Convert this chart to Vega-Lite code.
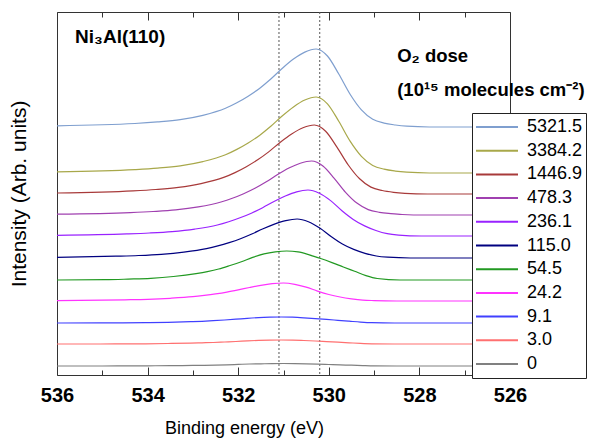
{
  "$schema": "https://vega.github.io/schema/vega-lite/v6.json",
  "width": 453,
  "height": 363,
  "autosize": {"type": "none"},
  "padding": {"left": 57, "top": 12, "right": 86, "bottom": 71},
  "background": "#ffffff",
  "config": {"view": {"stroke": "#333333", "strokeWidth": 1}},
  "resolve": {"axis": {"x": "independent"}},
  "datasets": {
    "spectra": [
      {"dose":"5321.5","be":536,"int":249.2},{"dose":"5321.5","be":534.28,"int":251.5},{"dose":"5321.5","be":533.78,"int":253.1},{"dose":"5321.5","be":533.28,"int":255.4},{"dose":"5321.5","be":532.78,"int":259.7},{"dose":"5321.5","be":532.28,"int":266.7},{"dose":"5321.5","be":532.03,"int":272.2},{"dose":"5321.5","be":531.78,"int":278.8},{"dose":"5321.5","be":531.53,"int":286.6},{"dose":"5321.5","be":531.28,"int":296},{"dose":"5321.5","be":531.03,"int":306.5},{"dose":"5321.5","be":530.78,"int":315.9},{"dose":"5321.5","be":530.53,"int":322.9},{"dose":"5321.5","be":530.28,"int":326},{"dose":"5321.5","be":530.03,"int":319},{"dose":"5321.5","be":529.78,"int":301},{"dose":"5321.5","be":529.53,"int":280.8},{"dose":"5321.5","be":529.28,"int":265.2},{"dose":"5321.5","be":529.03,"int":255.8},{"dose":"5321.5","be":528.78,"int":251.9},{"dose":"5321.5","be":528.53,"int":250},{"dose":"5321.5","be":528.28,"int":248.8},{"dose":"5321.5","be":527.78,"int":248},{"dose":"5321.5","be":526,"int":248},
      {"dose":"3384.2","be":536,"int":203.1},{"dose":"3384.2","be":534.28,"int":205.4},{"dose":"3384.2","be":533.78,"int":206.9},{"dose":"3384.2","be":533.28,"int":209.2},{"dose":"3384.2","be":532.78,"int":213.4},{"dose":"3384.2","be":532.28,"int":220.2},{"dose":"3384.2","be":532.03,"int":225.6},{"dose":"3384.2","be":531.78,"int":232},{"dose":"3384.2","be":531.53,"int":239.6},{"dose":"3384.2","be":531.28,"int":248.7},{"dose":"3384.2","be":531.03,"int":259},{"dose":"3384.2","be":530.78,"int":268.1},{"dose":"3384.2","be":530.53,"int":275},{"dose":"3384.2","be":530.28,"int":278},{"dose":"3384.2","be":530.03,"int":271.2},{"dose":"3384.2","be":529.78,"int":253.7},{"dose":"3384.2","be":529.53,"int":233.9},{"dose":"3384.2","be":529.28,"int":218.7},{"dose":"3384.2","be":529.03,"int":209.6},{"dose":"3384.2","be":528.78,"int":205.8},{"dose":"3384.2","be":528.53,"int":203.9},{"dose":"3384.2","be":528.28,"int":202.8},{"dose":"3384.2","be":527.78,"int":202},{"dose":"3384.2","be":526,"int":202},
      {"dose":"1446.9","be":536,"int":182},{"dose":"1446.9","be":534.32,"int":184.1},{"dose":"1446.9","be":533.82,"int":185.5},{"dose":"1446.9","be":533.32,"int":187.6},{"dose":"1446.9","be":532.82,"int":191.4},{"dose":"1446.9","be":532.32,"int":197.6},{"dose":"1446.9","be":532.07,"int":202.4},{"dose":"1446.9","be":531.82,"int":208.3},{"dose":"1446.9","be":531.57,"int":215.2},{"dose":"1446.9","be":531.32,"int":223.4},{"dose":"1446.9","be":531.07,"int":232.8},{"dose":"1446.9","be":530.82,"int":241},{"dose":"1446.9","be":530.57,"int":247.2},{"dose":"1446.9","be":530.32,"int":250},{"dose":"1446.9","be":530.07,"int":243.8},{"dose":"1446.9","be":529.82,"int":227.9},{"dose":"1446.9","be":529.57,"int":210},{"dose":"1446.9","be":529.32,"int":196.2},{"dose":"1446.9","be":529.07,"int":187.9},{"dose":"1446.9","be":528.82,"int":184.5},{"dose":"1446.9","be":528.57,"int":182.7},{"dose":"1446.9","be":528.32,"int":181.7},{"dose":"1446.9","be":527.82,"int":181},{"dose":"1446.9","be":526,"int":181},
      {"dose":"478.3","be":536,"int":160.8},{"dose":"478.3","be":534.38,"int":162.4},{"dose":"478.3","be":533.88,"int":163.5},{"dose":"478.3","be":533.38,"int":165.1},{"dose":"478.3","be":532.88,"int":168.1},{"dose":"478.3","be":532.38,"int":173},{"dose":"478.3","be":532.13,"int":176.7},{"dose":"478.3","be":531.88,"int":181.3},{"dose":"478.3","be":531.63,"int":186.7},{"dose":"478.3","be":531.38,"int":193.2},{"dose":"478.3","be":531.13,"int":200.5},{"dose":"478.3","be":530.88,"int":207},{"dose":"478.3","be":530.63,"int":211.8},{"dose":"478.3","be":530.38,"int":214},{"dose":"478.3","be":530.13,"int":209.1},{"dose":"478.3","be":529.88,"int":196.7},{"dose":"478.3","be":529.63,"int":182.7},{"dose":"478.3","be":529.38,"int":171.9},{"dose":"478.3","be":529.13,"int":165.4},{"dose":"478.3","be":528.88,"int":162.7},{"dose":"478.3","be":528.63,"int":161.4},{"dose":"478.3","be":528.38,"int":160.5},{"dose":"478.3","be":527.88,"int":160},{"dose":"478.3","be":526,"int":160},
      {"dose":"236.1","be":536,"int":139.7},{"dose":"236.1","be":534.46,"int":141.1},{"dose":"236.1","be":533.96,"int":142},{"dose":"236.1","be":533.46,"int":143.4},{"dose":"236.1","be":532.96,"int":145.9},{"dose":"236.1","be":532.46,"int":150},{"dose":"236.1","be":532.21,"int":153.3},{"dose":"236.1","be":531.96,"int":157.2},{"dose":"236.1","be":531.71,"int":161.8},{"dose":"236.1","be":531.46,"int":167.3},{"dose":"236.1","be":531.21,"int":173.5},{"dose":"236.1","be":530.96,"int":179},{"dose":"236.1","be":530.71,"int":183.2},{"dose":"236.1","be":530.46,"int":185},{"dose":"236.1","be":530.21,"int":181.8},{"dose":"236.1","be":529.96,"int":174.4},{"dose":"236.1","be":529.71,"int":164.3},{"dose":"236.1","be":529.46,"int":155.6},{"dose":"236.1","be":529.21,"int":149.1},{"dose":"236.1","be":528.96,"int":144.5},{"dose":"236.1","be":528.71,"int":141.3},{"dose":"236.1","be":528.46,"int":139.9},{"dose":"236.1","be":527.96,"int":139},{"dose":"236.1","be":526,"int":139},
      {"dose":"115.0","be":536,"int":117.6},{"dose":"115.0","be":534.7,"int":118.8},{"dose":"115.0","be":534.2,"int":119.5},{"dose":"115.0","be":533.7,"int":120.7},{"dose":"115.0","be":533.2,"int":122.9},{"dose":"115.0","be":532.7,"int":126.4},{"dose":"115.0","be":532.45,"int":129.1},{"dose":"115.0","be":532.2,"int":132.4},{"dose":"115.0","be":531.95,"int":136.3},{"dose":"115.0","be":531.7,"int":141},{"dose":"115.0","be":531.45,"int":146.3},{"dose":"115.0","be":531.2,"int":150.9},{"dose":"115.0","be":530.95,"int":154.4},{"dose":"115.0","be":530.7,"int":156},{"dose":"115.0","be":530.45,"int":153.3},{"dose":"115.0","be":530.2,"int":147},{"dose":"115.0","be":529.95,"int":138.5},{"dose":"115.0","be":529.7,"int":131},{"dose":"115.0","be":529.45,"int":125.6},{"dose":"115.0","be":529.2,"int":121.7},{"dose":"115.0","be":528.95,"int":119},{"dose":"115.0","be":528.7,"int":117.8},{"dose":"115.0","be":528.2,"int":117},{"dose":"115.0","be":526,"int":117},
      {"dose":"54.5","be":536,"int":95},{"dose":"54.5","be":534.93,"int":95.3},{"dose":"54.5","be":534.43,"int":95.9},{"dose":"54.5","be":533.93,"int":96.7},{"dose":"54.5","be":533.43,"int":98.5},{"dose":"54.5","be":532.93,"int":101.4},{"dose":"54.5","be":532.68,"int":103.4},{"dose":"54.5","be":532.43,"int":106},{"dose":"54.5","be":532.18,"int":109.5},{"dose":"54.5","be":531.93,"int":113.3},{"dose":"54.5","be":531.68,"int":117.6},{"dose":"54.5","be":531.43,"int":121.1},{"dose":"54.5","be":531.18,"int":123.1},{"dose":"54.5","be":530.93,"int":124},{"dose":"54.5","be":530.68,"int":123.1},{"dose":"54.5","be":530.43,"int":120.2},{"dose":"54.5","be":530.18,"int":116.5},{"dose":"54.5","be":529.93,"int":112.4},{"dose":"54.5","be":529.68,"int":108},{"dose":"54.5","be":529.43,"int":103.7},{"dose":"54.5","be":529.18,"int":99.4},{"dose":"54.5","be":528.93,"int":96.5},{"dose":"54.5","be":528.43,"int":95},{"dose":"54.5","be":526,"int":95},
      {"dose":"24.2","be":536,"int":74.4},{"dose":"24.2","be":535,"int":74.8},{"dose":"24.2","be":534.5,"int":75.2},{"dose":"24.2","be":534,"int":75.7},{"dose":"24.2","be":533.5,"int":76.7},{"dose":"24.2","be":533,"int":78.3},{"dose":"24.2","be":532.75,"int":79.6},{"dose":"24.2","be":532.5,"int":81.1},{"dose":"24.2","be":532.25,"int":82.9},{"dose":"24.2","be":532,"int":85.1},{"dose":"24.2","be":531.75,"int":87.5},{"dose":"24.2","be":531.5,"int":89.7},{"dose":"24.2","be":531.25,"int":91.3},{"dose":"24.2","be":531,"int":92},{"dose":"24.2","be":530.75,"int":90.7},{"dose":"24.2","be":530.5,"int":87.9},{"dose":"24.2","be":530.25,"int":83.9},{"dose":"24.2","be":530,"int":80.5},{"dose":"24.2","be":529.75,"int":78},{"dose":"24.2","be":529.5,"int":76.2},{"dose":"24.2","be":529.25,"int":74.9},{"dose":"24.2","be":529,"int":74.4},{"dose":"24.2","be":528.5,"int":74},{"dose":"24.2","be":526,"int":74},
      {"dose":"9.1","be":536,"int":52},{"dose":"9.1","be":535.05,"int":52.1},{"dose":"9.1","be":534.55,"int":52.2},{"dose":"9.1","be":534.05,"int":52.4},{"dose":"9.1","be":533.55,"int":52.7},{"dose":"9.1","be":533.05,"int":53.3},{"dose":"9.1","be":532.8,"int":53.7},{"dose":"9.1","be":532.55,"int":54.3},{"dose":"9.1","be":532.3,"int":55},{"dose":"9.1","be":532.05,"int":55.8},{"dose":"9.1","be":531.8,"int":56.7},{"dose":"9.1","be":531.55,"int":57.4},{"dose":"9.1","be":531.3,"int":57.8},{"dose":"9.1","be":531.05,"int":58},{"dose":"9.1","be":530.8,"int":57.8},{"dose":"9.1","be":530.55,"int":57.2},{"dose":"9.1","be":530.3,"int":56.4},{"dose":"9.1","be":530.05,"int":55.6},{"dose":"9.1","be":529.8,"int":54.7},{"dose":"9.1","be":529.55,"int":53.8},{"dose":"9.1","be":529.3,"int":52.9},{"dose":"9.1","be":529.05,"int":52.3},{"dose":"9.1","be":528.55,"int":52},{"dose":"9.1","be":526,"int":52},
      {"dose":"3.0","be":536,"int":31},{"dose":"3.0","be":535.05,"int":31},{"dose":"3.0","be":534.55,"int":31.1},{"dose":"3.0","be":534.05,"int":31.2},{"dose":"3.0","be":533.55,"int":31.5},{"dose":"3.0","be":533.05,"int":31.9},{"dose":"3.0","be":532.8,"int":32.2},{"dose":"3.0","be":532.55,"int":32.5},{"dose":"3.0","be":532.3,"int":33},{"dose":"3.0","be":532.05,"int":33.5},{"dose":"3.0","be":531.8,"int":34.1},{"dose":"3.0","be":531.55,"int":34.6},{"dose":"3.0","be":531.3,"int":34.9},{"dose":"3.0","be":531.05,"int":35},{"dose":"3.0","be":530.8,"int":34.9},{"dose":"3.0","be":530.55,"int":34.5},{"dose":"3.0","be":530.3,"int":34},{"dose":"3.0","be":530.05,"int":33.4},{"dose":"3.0","be":529.8,"int":32.8},{"dose":"3.0","be":529.55,"int":32.2},{"dose":"3.0","be":529.3,"int":31.6},{"dose":"3.0","be":529.05,"int":31.2},{"dose":"3.0","be":528.55,"int":31},{"dose":"3.0","be":526,"int":31},
      {"dose":"0","be":536,"int":9},{"dose":"0","be":535,"int":9},{"dose":"0","be":534.5,"int":9.1},{"dose":"0","be":534,"int":9.2},{"dose":"0","be":533.5,"int":9.3},{"dose":"0","be":533,"int":9.6},{"dose":"0","be":532.75,"int":9.7},{"dose":"0","be":532.5,"int":9.9},{"dose":"0","be":532.25,"int":10.2},{"dose":"0","be":532,"int":10.6},{"dose":"0","be":531.75,"int":11},{"dose":"0","be":531.5,"int":11.2},{"dose":"0","be":531.25,"int":11.4},{"dose":"0","be":531,"int":11.5},{"dose":"0","be":530.75,"int":11.4},{"dose":"0","be":530.5,"int":11.2},{"dose":"0","be":530.25,"int":10.9},{"dose":"0","be":530,"int":10.5},{"dose":"0","be":529.75,"int":10.1},{"dose":"0","be":529.5,"int":9.8},{"dose":"0","be":529.25,"int":9.4},{"dose":"0","be":529,"int":9.1},{"dose":"0","be":528.5,"int":9},{"dose":"0","be":526,"int":9}
    ]
  },
  "layer": [
    {
      "data": {"values": [{"e": 531.1}, {"e": 530.2}]},
      "mark": {"type": "rule", "color": "#555555", "strokeDash": [2, 2], "strokeWidth": 1},
      "encoding": {
        "x": {"field": "e", "type": "quantitative",
          "axis": {"orient": "top", "values": [536, 534, 532, 530, 528, 526], "tickSize": -8, "tickColor": "#333333", "labels": false, "domain": false, "grid": false, "title": null}}
      }
    },
    {
      "data": {"name": "spectra"},
      "mark": {"type": "line", "strokeWidth": 1.2, "interpolate": "monotone"},
      "encoding": {
        "x": {"field": "be", "type": "quantitative",
          "scale": {"domain": [526, 536], "reverse": true, "nice": false, "zero": false},
          "axis": {"orient": "bottom", "values": [536, 534, 532, 530, 528, 526], "tickSize": -8, "tickColor": "#333333", "domain": false, "grid": false,
            "labelFont": "Liberation Sans", "labelFontWeight": "bold", "labelFontSize": 20, "labelColor": "#000000", "labelPadding": 18, "labelFlush": false, "labelOverlap": false,
            "title": "Binding energy (eV)", "titleFont": "Liberation Sans", "titleFontSize": 18, "titleFontWeight": "normal", "titleColor": "#000000",
            "titleX": 187, "titleY": 58, "titleAlign": "center", "titleBaseline": "alphabetic"}},
        "y": {"field": "int", "type": "quantitative",
          "scale": {"domain": [0, 363], "nice": false, "zero": false},
          "axis": {"orient": "left", "labels": false, "ticks": false, "domain": false, "grid": false,
            "title": "Intensity (Arb. units)", "titleFont": "Liberation Sans", "titleFontSize": 21, "titleFontWeight": "normal", "titleColor": "#000000",
            "titleAngle": -90, "titleX": -32, "titleY": 181.5, "titleAlign": "center", "titleBaseline": "alphabetic"}},
        "color": {"field": "dose", "type": "nominal",
          "scale": {"domain": ["5321.5", "3384.2", "1446.9", "478.3", "236.1", "115.0", "54.5", "24.2", "9.1", "3.0", "0"],
            "range": ["#7f9fcf", "#a8a84a", "#a83a3a", "#a040b0", "#9922ff", "#000080", "#229922", "#ff33ff", "#4040ff", "#ff7070", "#808080"]},
          "legend": {"orient": "none", "legendX": 415, "legendY": 101, "title": null, "symbolType": "stroke", "symbolSize": 1764, "symbolStrokeWidth": 2,
            "labelFont": "Liberation Sans", "labelFontSize": 18, "labelColor": "#000000", "labelOffset": 8, "padding": 3, "clipHeight": 22, "rowPadding": 1.7,
            "strokeColor": "#222222", "fillColor": "#ffffff", "symbolOffset": 0}}
      }
    },
    {
      "data": {"values": [{"label": "Ni₃Al(110)"}]},
      "mark": {"type": "text", "font": "Liberation Sans", "fontWeight": "bold", "fontSize": 19, "align": "left", "baseline": "alphabetic", "color": "#000000"},
      "encoding": {
        "x": {"datum": 535.6, "type": "quantitative",
          "axis": {"orient": "bottom", "values": [535, 533, 531, 529, 527], "tickSize": -5, "tickColor": "#333333", "labels": false, "domain": false, "grid": false, "title": null}},
        "y": {"datum": 332, "type": "quantitative"},
        "text": {"field": "label"}
      }
    },
    {
      "data": {"values": [{"label": "O₂ dose"}]},
      "mark": {"type": "text", "font": "Liberation Sans", "fontWeight": "bold", "fontSize": 18.5, "align": "left", "baseline": "alphabetic", "color": "#000000"},
      "encoding": {
        "x": {"datum": 528.49, "type": "quantitative",
          "axis": {"orient": "top", "values": [535, 533, 531, 529, 527], "tickSize": -5, "tickColor": "#333333", "labels": false, "domain": false, "grid": false, "title": null}},
        "y": {"datum": 313, "type": "quantitative"},
        "text": {"field": "label"}
      }
    },
    {
      "data": {"values": [{"label": "(10¹⁵ molecules cm⁻²)"}]},
      "mark": {"type": "text", "font": "Liberation Sans", "fontWeight": "bold", "fontSize": 18.5, "align": "left", "baseline": "alphabetic", "color": "#000000"},
      "encoding": {
        "x": {"datum": 528.49, "type": "quantitative", "axis": null},
        "y": {"datum": 279, "type": "quantitative"},
        "text": {"field": "label"}
      }
    }
  ]
}
